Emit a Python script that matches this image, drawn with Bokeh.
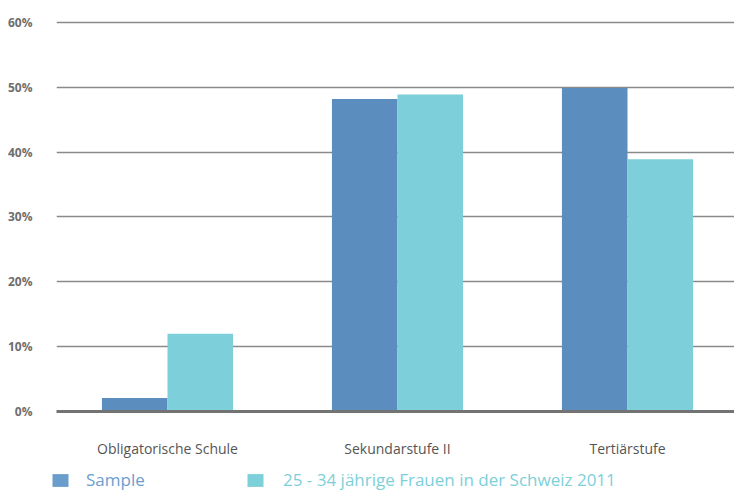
from bokeh.plotting import figure
from bokeh.layouts import column
from bokeh.models import (ColumnDataSource, Range1d, FixedTicker, PrintfTickFormatter,
                          Legend, LegendItem)
from bokeh.transform import dodge
from bokeh.embed import file_html
from bokeh.resources import INLINE

categories = ["Obligatorische Schule", "Sekundarstufe II", "Tertiärstufe"]
series_names = ["Sample", "25 - 34 jährige Frauen in der Schweiz 2011"]
sample = [2.1, 48.2, 49.9]
frauen = [12.0, 48.9, 38.9]
y_ticks = [0, 10, 20, 30, 40, 50, 60]

BLUE = "#5b8dbe"
CYAN = "#7dcfd9"
FONT = "Open Sans"
W = 734

xs = [i + 0.5 for i in range(len(categories))]
src = ColumnDataSource(dict(x=xs, sample=sample, frauen=frauen))

FRAME_L = 56
px_per_cat = 230.0
x0 = 0.5 - (167 - FRAME_L) / px_per_cat
x1 = x0 + (W - FRAME_L) / px_per_cat

p = figure(width=W, height=460, output_backend="svg", toolbar_location=None,
           x_range=Range1d(x0, x1), y_range=Range1d(0, 60.3),
           min_border_left=FRAME_L, min_border_right=0, min_border_top=20, min_border_bottom=42)
p.outline_line_color = None
p.background_fill_color = "white"
p.border_fill_color = "white"
p.frame_align = False

r1 = p.vbar(x=dodge("x", -0.1425, range=p.x_range), top="sample", width=0.285, source=src,
            fill_color=BLUE, line_color=None)
r2 = p.vbar(x=dodge("x", 0.1425, range=p.x_range), top="frauen", width=0.285, source=src,
            fill_color=CYAN, line_color=None)

p.xgrid.grid_line_color = None
p.ygrid.ticker = FixedTicker(ticks=y_ticks)
p.ygrid.grid_line_color = "#8a8a8a"
p.ygrid.grid_line_width = 1.6
p.ygrid.level = "underlay"

p.yaxis.ticker = FixedTicker(ticks=y_ticks)
p.yaxis.formatter = PrintfTickFormatter(format="%d%%")
p.yaxis.axis_line_color = None
p.yaxis.major_tick_line_color = None
p.yaxis.minor_tick_line_color = None
p.yaxis.major_label_text_font = FONT
p.yaxis.major_label_text_font_style = "bold"
p.yaxis.major_label_text_font_size = "12px"
p.yaxis.major_label_text_color = "#6e6e6e"
p.yaxis.major_label_standoff = 18

p.xaxis.ticker = FixedTicker(ticks=xs)
p.xaxis.major_label_overrides = {x: c for x, c in zip(xs, categories)}
p.xaxis.axis_line_color = "#737373"
p.xaxis.axis_line_width = 3
p.xaxis.major_tick_line_color = None
p.xaxis.minor_tick_line_color = None
p.xaxis.major_label_text_font = FONT
p.xaxis.major_label_text_font_size = "14px"
p.xaxis.major_label_text_color = "#555555"
p.xaxis.major_label_standoff = 21

# legend strip
q = figure(width=W, height=32, output_backend="svg", toolbar_location=None,
           x_range=Range1d(0, 1), y_range=Range1d(0, 1),
           min_border_left=0, min_border_right=0, min_border_top=0, min_border_bottom=0)
q.axis.visible = False
q.grid.visible = False
q.outline_line_color = None
q.border_fill_color = "white"
q.background_fill_color = "white"
q.frame_align = False
d1 = q.rect(x=[-10], y=[-10], width=1, height=1, fill_color="#6a9dcb", line_color=None)
d2 = q.rect(x=[-10], y=[-10], width=1, height=1, fill_color=CYAN, line_color=None)

def make_legend(name, renderer, color, x, standoff):
    lg = Legend(items=[LegendItem(label=name, renderers=[renderer], index=0)],
                location=(x, 1), orientation="horizontal",
                glyph_width=20, glyph_height=16, label_standoff=standoff,
                padding=0, margin=0, spacing=0,
                border_line_color=None, background_fill_alpha=0,
                label_text_font=FONT, label_text_font_size="17px",
                label_text_color=color, label_height=16)
    q.add_layout(lg, "center")

make_legend(series_names[0], d1, "#6a9ecf", 50, 16)
make_legend(series_names[1], d2, CYAN, 245, 18)

layout = column(p, q, spacing=0)
open("out.html", "w").write(file_html(layout, INLINE))
